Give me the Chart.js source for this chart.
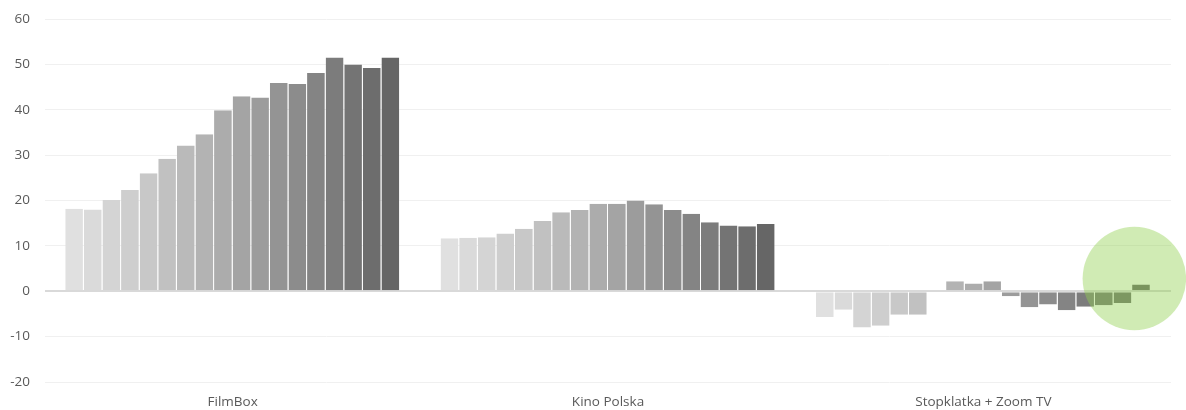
<!DOCTYPE html>
<html>
<head>
<meta charset="utf-8">
<script src="https://cdn.jsdelivr.net/npm/chart.js@4.4.1/dist/chart.umd.min.js"></script>
<style>
  html, body { margin: 0; padding: 0; background: #fff; }
  #wrap { width: 1186px; height: 410px; }
</style>
</head>
<body>
<div id="wrap"><canvas id="chart" width="1186" height="410"></canvas></div>
<script>
const channels = ['FilmBox', 'Kino Polska', 'Stopklatka + Zoom TV'];

// one series per period, values per channel
const filmBox = [18.2, 18.0, 20.1, 22.3, 26.0, 29.2, 32.1, 34.6, 39.9, 43.0, 42.7, 45.9, 45.7, 48.1, 51.5, 50.0, 49.2, 51.5];
const kinoPolska = [11.7, 11.8, 11.9, 12.7, 13.8, 15.5, 17.4, 17.9, 19.3, 19.3, 20.0, 19.2, 17.9, 17.1, 15.2, 14.5, 14.3, 14.8];
const stopklatka = [-5.7, -4.1, -8.0, -7.6, -5.2, -5.2, 0, 2.2, 1.7, 2.2, -1.1, -3.5, -2.9, -4.2, -3.4, -3.1, -2.6, 1.5];

const yTicks = [-20, -10, 0, 10, 20, 30, 40, 50, 60];

const barColors = [
  '#e0e0e0', '#dadada', '#d4d4d4', '#cecece', '#c8c8c8', '#c1c1c1',
  '#bababa', '#b3b3b3', '#acacac', '#a4a4a4', '#9c9c9c', '#949494',
  '#8c8c8c', '#848484', '#7c7c7c', '#747474', '#6d6d6d', '#666666'
];

// highlight circle around the last bar of the last channel (value units)
const highlightCenter = 2.8;
const highlightRadius = 11.4;

const datasets = filmBox.map((v, i) => ({
  label: 'Seria ' + (i + 1),
  data: [filmBox[i], kinoPolska[i], stopklatka[i]],
  backgroundColor: barColors[i],
  borderColor: 'rgba(255,255,255,0.22)',
  borderWidth: { left: 0, right: 1, top: 0, bottom: 0 },
  borderSkipped: false,
  categoryPercentage: 0.892,
  barPercentage: 1
}));

const highlightPlugin = {
  id: 'highlight',
  afterDatasetsDraw(chart) {
    const meta = chart.getDatasetMeta(chart.data.datasets.length - 1);
    const bar = meta.data[channels.length - 1];
    if (!bar) return;
    const y = chart.scales.y;
    const cx = bar.x - bar.width * 0.38;
    const cy = y.getPixelForValue(highlightCenter);
    const r = y.getPixelForValue(0) - y.getPixelForValue(highlightRadius);
    const ctx = chart.ctx;
    ctx.save();
    ctx.beginPath();
    ctx.arc(cx, cy, r, 0, Math.PI * 2);
    ctx.fillStyle = 'rgba(146, 208, 80, 0.43)';
    ctx.fill();
    ctx.restore();
  }
};

const font = { family: '"Open Sans", sans-serif', size: 13.5 };

new Chart(document.getElementById('chart'), {
  type: 'bar',
  data: { labels: channels, datasets },
  options: {
    responsive: false,
    animation: false,
    layout: { padding: { left: 0, right: 15, top: 19, bottom: 0 } },
    plugins: {
      legend: { display: false },
      tooltip: { enabled: false }
    },
    scales: {
      x: {
        grid: { display: false, drawTicks: false },
        border: { display: false },
        ticks: { color: '#595959', font, padding: 12 },
        afterFit(scale) { scale.height = 28; }
      },
      y: {
        min: yTicks[0],
        max: yTicks[yTicks.length - 1],
        afterBuildTicks(scale) { scale.ticks = yTicks.map(v => ({ value: v })); },
        grid: {
          drawTicks: false,
          color: c => (c.tick && c.tick.value === 0 ? '#d9d9d9' : '#f0f0f0'),
          lineWidth: c => (c.tick && c.tick.value === 0 ? 2 : 1)
        },
        border: { display: false },
        ticks: { color: '#595959', font, padding: 15 },
        afterFit(scale) {
          scale.width = 45;
          // the tick padding would otherwise push the plot down
          scale.paddingTop = 0;
          scale.paddingBottom = 0;
        }
      }
    }
  },
  plugins: [highlightPlugin]
});
</script>
</body>
</html>
